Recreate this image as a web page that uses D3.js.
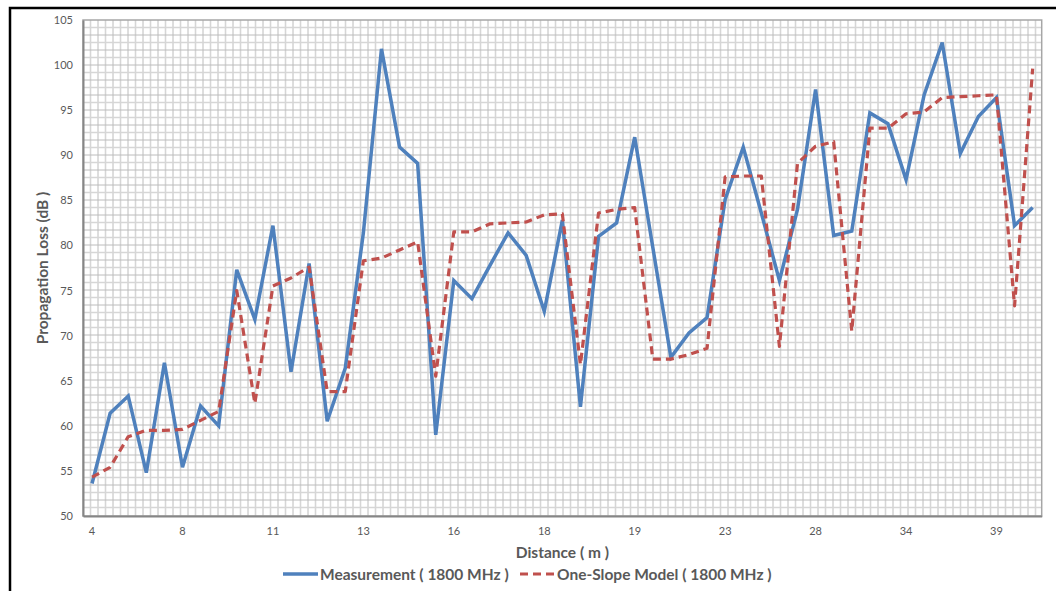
<!DOCTYPE html>
<html>
<head>
<meta charset="utf-8">
<script src="https://cdn.jsdelivr.net/npm/d3@7"></script>
<style>
  html, body { margin: 0; padding: 0; background: #ffffff; }
  svg { display: block; }
  text { font-family: Lato, "Open Sans", "Liberation Sans", sans-serif; fill: #595959; }
</style>
</head>
<body>
<svg id="chart" width="1056" height="591"></svg>
<script>
// ---- data ----
const xTickLabels = ["4", "8", "11", "13", "16", "18", "19", "23", "28", "34", "39"];
const labelEvery = 5; // one distance label every 5 measurement points
const measurement = [53.6, 61.4, 63.3, 54.8, 67.0, 55.4, 62.2, 60.0, 77.3, 71.8, 82.2, 66.0, 78.0, 60.5, 66.4,
  81.4, 101.8, 90.9, 89.1, 59.0, 76.1, 74.1, 77.8, 81.4, 78.9, 72.7, 82.8, 62.1, 81.0, 82.5, 92.0, 79.8, 67.6,
  70.3, 72.0, 85.1, 90.9, 83.6, 76.1, 84.0, 97.3, 81.1, 81.6, 94.7, 93.5, 87.3, 96.7, 102.5, 90.2, 94.3, 96.4,
  82.2, 84.2];
const oneSlope = [54.3, 55.4, 58.8, 59.5, 59.5, 59.6, 60.6, 61.6, 75.0, 62.5, 75.5, 76.4, 77.6, 63.8, 63.8,
  78.3, 78.6, 79.5, 80.4, 65.5, 81.5, 81.5, 82.4, 82.5, 82.6, 83.4, 83.5, 66.8, 83.6, 84.0, 84.2, 67.4, 67.4,
  67.9, 68.6, 87.6, 87.7, 87.7, 68.8, 89.1, 91.0, 91.5, 70.5, 93.0, 93.0, 94.6, 94.8, 96.4, 96.5, 96.6, 96.7,
  73.3, 99.6];
const yTicks = [50, 55, 60, 65, 70, 75, 80, 85, 90, 95, 100, 105];
const seriesNames = ["Measurement ( 1800 MHz )", "One-Slope Model ( 1800 MHz )"];
const xTitle = "Distance ( m )";
const yTitle = "Propagation Loss (dB )";

// ---- layout ----
const plot = { left: 83, top: 20, right: 1041.7, bottom: 516 };
const svg = d3.select("#chart");

// outer chart frame
svg.append("rect").attr("x", 10).attr("y", 8).attr("width", 1100).attr("height", 700)
  .attr("fill", "#ffffff").attr("stroke", "#000000").attr("stroke-width", 2.5);

const n = measurement.length;
const x = d3.scaleBand().domain(d3.range(n)).range([plot.left, plot.right]);
const cx = i => x(i) + x.bandwidth() / 2;
const y = d3.scaleLinear().domain([50, 105]).range([plot.bottom, plot.top]);

// plot-area grid pattern
const grid = svg.append("g");
const step = 7.5;
let k = 0;
for (let gx = plot.left + step; gx < plot.right - 1; gx += step, k++) {
  grid.append("line").attr("x1", gx).attr("x2", gx).attr("y1", plot.top).attr("y2", plot.bottom)
    .attr("stroke", k % 2 ? "#bcbcbc" : "#d6d6d6").attr("stroke-width", k % 2 ? 1 : 1.6);
}
k = 0;
for (let gy = plot.top + step; gy < plot.bottom - 1; gy += step, k++) {
  grid.append("line").attr("x1", plot.left).attr("x2", plot.right).attr("y1", gy).attr("y2", gy)
    .attr("stroke", k % 2 ? "#bcbcbc" : "#d6d6d6").attr("stroke-width", k % 2 ? 1 : 1.6);
}
// plot border
svg.append("rect").attr("x", plot.left).attr("y", plot.top)
  .attr("width", plot.right - plot.left).attr("height", plot.bottom - plot.top)
  .attr("fill", "none").attr("stroke", "#a6a6a6").attr("stroke-width", 1.5);

// axes
const yAxis = d3.axisLeft(y).tickValues(yTicks).tickSize(0).tickPadding(10);
const gy = svg.append("g").attr("transform", `translate(${plot.left},0)`).call(yAxis);
gy.select(".domain").attr("stroke", "#868686").attr("stroke-width", 2);
gy.selectAll("text").style("font-size", "11px").attr("fill", "#595959");

const xAxis = d3.axisBottom(x)
  .tickValues(d3.range(0, n, labelEvery))
  .tickFormat(i => xTickLabels[i / labelEvery])
  .tickSize(0).tickPadding(11);
const gx = svg.append("g").attr("transform", `translate(0,${plot.bottom})`).call(xAxis);
gx.select(".domain").attr("stroke", "#868686").attr("stroke-width", 2);
gx.selectAll("text").style("font-size", "11px").attr("fill", "#595959");

// lines
const line = d3.line().x((d, i) => cx(i)).y(d => y(d));
svg.append("path").datum(measurement).attr("d", line)
  .attr("fill", "none").attr("stroke", "#4F81BD").attr("stroke-width", 3.5)
  .attr("stroke-linejoin", "miter");
svg.append("path").datum(oneSlope).attr("d", line)
  .attr("fill", "none").attr("stroke", "#C0504D").attr("stroke-width", 3.2)
  .attr("stroke-dasharray", "8,5").attr("stroke-linejoin", "round");

// titles
svg.append("text").attr("x", (plot.left + plot.right) / 2).attr("y", 558)
  .attr("text-anchor", "middle").style("font-size", "15.5px").style("font-weight", "bold").text(xTitle);
svg.append("text").attr("transform", `translate(48,${(plot.top + plot.bottom) / 2}) rotate(-90)`)
  .attr("text-anchor", "middle").style("font-size", "15.5px").style("font-weight", "bold").text(yTitle);

// legend
const legend = svg.append("g");
legend.append("line").attr("x1", 283).attr("x2", 318).attr("y1", 574).attr("y2", 574)
  .attr("stroke", "#4F81BD").attr("stroke-width", 3.5);
legend.append("text").attr("x", 320).attr("y", 580).style("font-size", "15.5px").style("font-weight", "bold")
  .text(seriesNames[0]);
legend.append("line").attr("x1", 520).attr("x2", 555).attr("y1", 574).attr("y2", 574)
  .attr("stroke", "#C0504D").attr("stroke-width", 3.2).attr("stroke-dasharray", "8,5");
legend.append("text").attr("x", 557).attr("y", 580).style("font-size", "15.5px").style("font-weight", "bold")
  .text(seriesNames[1]);
</script>
</body>
</html>
